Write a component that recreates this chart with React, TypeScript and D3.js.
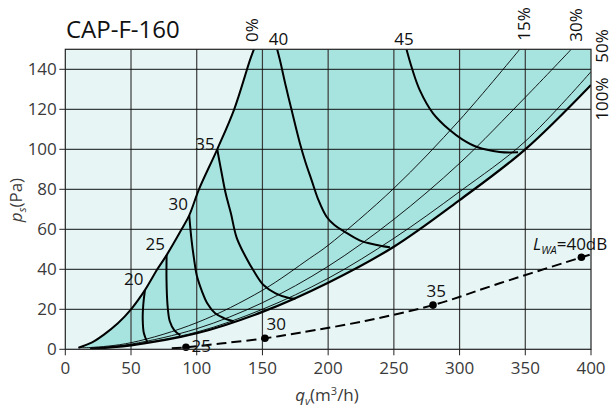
import React from "react";
import * as d3 from "d3";

const title = "CAP-F-160";
const xTicks = [0, 50, 100, 150, 200, 250, 300, 350, 400];
const yTicks = [0, 20, 40, 60, 80, 100, 120, 140];

// system curves (q m3/h, p Pa)
const curve0: [number, number][] = [
  [10, 0.8], [20, 3.3], [28.9, 7.1], [40, 13], [50, 20], [60.6, 29.6], [70, 40], [77.1, 47.1],
  [88.5, 60], [94.3, 67], [101.7, 80], [115.6, 100], [128.5, 120], [140.5, 144.6], [143.5, 150],
];
const curve15: [number, number][] = [
  [10, 0.8], [19, 0.9], [50, 3.3], [100, 13.3], [150, 29.5], [186, 45.5], [200, 52],
  [250, 80.5], [300, 114.6], [345.8, 150],
];
const curve30: [number, number][] = [
  [19, 0.4], [50, 2.6], [100, 10.3], [150, 23.3], [200, 41.5], [250, 65], [300, 93],
  [350, 126], [385, 150],
];
const curve50: [number, number][] = [
  [19, 0.3], [50, 2.3], [100, 8.6], [150, 20], [200, 35.5], [250, 55.5], [300, 78.8],
  [350, 104], [400, 138.8],
];
const curve100: [number, number][] = [
  [19, 0.3], [50, 2], [100, 8], [150, 18.7], [200, 33.3], [250, 51.3], [300, 74.6],
  [350, 100], [400, 132.2],
];

// sound level contours
const db20: [number, number][] = [[60.6, 29.6], [59.3, 22], [58.9, 15], [59.8, 8], [62.4, 3.6]];
const db25: [number, number][] = [[77.1, 47.1], [77, 35], [77.8, 22], [79.5, 14], [83, 9.5], [87.5, 7]];
const db30: [number, number][] = [
  [94.3, 67], [96, 55], [98, 45], [100, 37], [104, 29], [108, 23], [114, 18], [121, 15.5], [128, 14],
];
const db35: [number, number][] = [
  [115.6, 100], [119, 88], [122, 78], [126, 68], [130.3, 56], [137, 46.5], [144, 38.5], [151, 32],
  [160, 28], [171, 25.5], [175, 25.3],
];
const db40: [number, number][] = [
  [161.2, 150], [163.3, 144.6], [168, 131], [172.2, 119.6], [178.5, 103], [183, 93], [187.4, 84.6],
  [192.4, 75], [198.8, 66.3], [205, 62], [212, 59], [224, 54.5], [236, 52.3], [247, 51],
];
const db45: [number, number][] = [
  [259.6, 150], [264, 140], [269.7, 129.6], [279.8, 118], [292.5, 109.6], [302, 105], [312.8, 101.3],
  [330.5, 98.7], [344.5, 98.5],
];
const dbCurves = [db20, db25, db30, db35, db40, db45];

// L_WA dashed line
const lwaLine: [number, number][] = [
  [81, 0.5], [91.8, 1], [120, 3], [151.9, 5.5], [178.5, 8.3], [229, 14.3], [279.8, 22.1],
  [330.5, 33], [392.7, 46], [399, 47.3],
];
const lwaDots: [number, number][] = [[91.8, 1], [151.9, 5.5], [279.8, 22.1], [392.7, 46]];

const W = 612;
const H = 410;
const X0 = 65.3, X1 = 591, Y0 = 349.3, Y1 = 49.3;
const FONT = "'Open Sans', 'Noto Sans', sans-serif";

export default function App() {
  const x = d3.scaleLinear().domain([0, 400]).range([X0, X1]);
  const y = d3.scaleLinear().domain([0, 150]).range([Y0, Y1]);
  const line = d3
    .line<[number, number]>()
    .x((d) => x(d[0]))
    .y((d) => y(d[1]))
    .curve(d3.curveCatmullRom.alpha(0.5));

  const fillPath =
    (line(curve0) || "") +
    "L" + x(400) + "," + y(150) +
    "L" + x(400) + "," + y(132.2) +
    (line([...curve100].reverse()) || "").replace(/^M/, "L") +
    "Z";

  const txt = "#3a3a3a";

  return (
    <svg
      width={W}
      height={H}
      style={{ position: "absolute", left: 0, top: 0, background: "#fff" }}
      fontFamily={FONT}
    >
      <defs>
        <clipPath id="plot">
          <rect x={X0} y={Y1} width={X1 - X0} height={Y0 - Y1} />
        </clipPath>
      </defs>

      <rect x={X0} y={Y1} width={X1 - X0} height={Y0 - Y1} fill="#e7f6f5" />
      <g clipPath="url(#plot)">
        <path d={fillPath} fill="#a8e4df" />
      </g>

      {/* grid */}
      {xTicks.slice(1, -1).map((t) => (
        <line key={"gx" + t} x1={x(t)} x2={x(t)} y1={Y1} y2={Y0} stroke="#3a3a3a" strokeWidth={1.2} />
      ))}
      {yTicks.slice(1).map((t) => (
        <line key={"gy" + t} x1={X0} x2={X1} y1={y(t)} y2={y(t)} stroke="#111" strokeWidth={1} />
      ))}

      <g clipPath="url(#plot)" fill="none">
        <path d={line(curve15) || ""} stroke="#000" strokeWidth={0.9} />
        <path d={line(curve30) || ""} stroke="#000" strokeWidth={0.9} />
        <path d={line(curve50) || ""} stroke="#000" strokeWidth={0.9} />
        <path d={line(curve100) || ""} stroke="#000" strokeWidth={2.2} />
        <path d={line(curve0) || ""} stroke="#000" strokeWidth={2} />
        {dbCurves.map((c, i) => (
          <path key={"db" + i} d={line(c) || ""} stroke="#000" strokeWidth={2} />
        ))}
      </g>

      {/* dashed L_WA */}
      <path
        d={line(lwaLine) || ""}
        fill="none"
        stroke="#000"
        strokeWidth={2}
        strokeDasharray="10,5"
      />
      {lwaDots.map((d, i) => (
        <circle key={"dot" + i} cx={x(d[0])} cy={y(d[1])} r={3.8} fill="#000" />
      ))}

      {/* frame */}
      <rect x={X0} y={Y1} width={X1 - X0} height={Y0 - Y1} fill="none" stroke="#222" strokeWidth={1.2} />

      {/* axes ticks */}
      {yTicks.map((t) => (
        <g key={"yt" + t}>
          <line x1={X0 - 6} x2={X0} y1={y(t)} y2={y(t)} stroke="#222" strokeWidth={1} />
          <text x={X0 - 8.5} y={y(t)} dy="0.36em" textAnchor="end" fontSize={17} fill={txt}>
            {t}
          </text>
        </g>
      ))}
      {xTicks.map((t) => (
        <g key={"xt" + t}>
          <line x1={x(t)} x2={x(t)} y1={Y0} y2={Y0 + 6} stroke="#222" strokeWidth={1} />
          <text x={x(t)} y={374} textAnchor="middle" fontSize={17} fill={txt}>
            {t}
          </text>
        </g>
      ))}

      {/* axis labels */}
      <text x={327} y={401} textAnchor="middle" fontSize={17} fill={txt}>
        <tspan fontStyle="italic">q</tspan>
        <tspan fontStyle="italic" fontSize={11} dy={4}>v</tspan>
        <tspan dy={-4}>(m</tspan>
        <tspan fontSize={11} dy={-6}>3</tspan>
        <tspan dy={6}>/h)</tspan>
      </text>
      <text
        transform={`translate(22,200) rotate(-90)`}
        textAnchor="middle"
        fontSize={17}
        fill={txt}
      >
        <tspan fontStyle="italic">p</tspan>
        <tspan fontStyle="italic" fontSize={11} dy={4}>s</tspan>
        <tspan dy={-4}>(Pa)</tspan>
      </text>

      {/* title */}
      <text x={66} y={38.3} fontSize={24} fill="#111">
        {title}
      </text>

      {/* dB labels */}
      <text x={133.7} y={285} textAnchor="middle" fontSize={17} fill="#111">20</text>
      <text x={155.3} y={250} textAnchor="middle" fontSize={17} fill="#111">25</text>
      <text x={178.3} y={210} textAnchor="middle" fontSize={17} fill="#111">30</text>
      <text x={205} y={150} textAnchor="middle" fontSize={17} fill="#111">35</text>
      <text x={278.5} y={45} textAnchor="middle" fontSize={17} fill="#111">40</text>
      <text x={404} y={45} textAnchor="middle" fontSize={17} fill="#111">45</text>

      {/* percent labels (rotated) */}
      <text transform="translate(258,30) rotate(-90)" textAnchor="middle" fontSize={17} fill="#111">0%</text>
      <text transform="translate(530,24) rotate(-90)" textAnchor="middle" fontSize={17} fill="#111">15%</text>
      <text transform="translate(581.7,25) rotate(-90)" textAnchor="middle" fontSize={17} fill="#111">30%</text>
      <text transform="translate(608,46) rotate(-90)" textAnchor="middle" fontSize={17} fill="#111">50%</text>
      <text transform="translate(608,99) rotate(-90)" textAnchor="middle" fontSize={17} fill="#111">100%</text>

      {/* L_WA labels */}
      <text x={191.5} y={352} fontSize={17} fill="#111">25</text>
      <text x={266.5} y={330} fontSize={17} fill="#111">30</text>
      <text x={426.5} y={296.7} fontSize={17} fill="#111">35</text>
      <text x={533} y={250} fontSize={17} fill="#111">
        <tspan fontStyle="italic">L</tspan>
        <tspan fontStyle="italic" fontSize={11} dy={4}>WA</tspan>
        <tspan dy={-4}>=40dB</tspan>
      </text>
    </svg>
  );
}
